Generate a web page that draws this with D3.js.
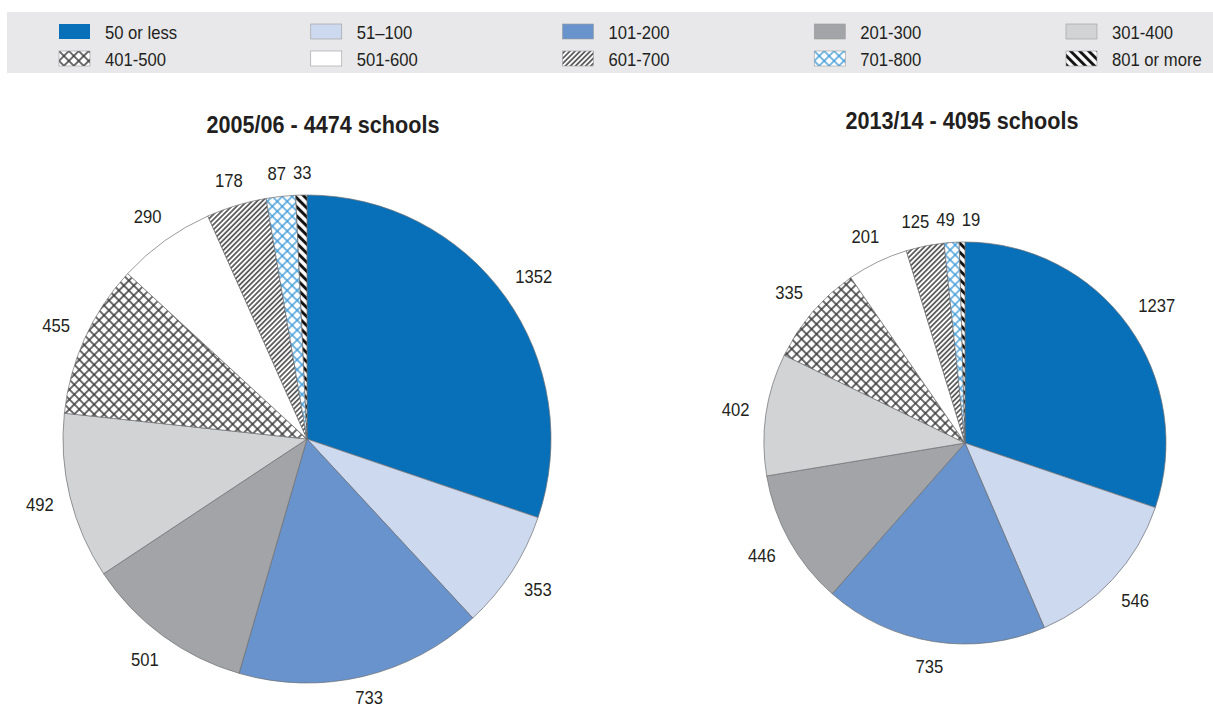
<!DOCTYPE html>
<html>
<head>
<meta charset="utf-8">
<script src="https://cdn.jsdelivr.net/npm/d3@7/dist/d3.min.js"></script>
<style>
  html, body { margin: 0; padding: 0; background: #ffffff; }
  svg { display: block; }
  text { font-family: "Liberation Sans", Arial, Helvetica, sans-serif; fill: #231f20; }
</style>
</head>
<body>
<svg id="chart" width="1213" height="709"></svg>
<script>
// School size bands (number of pupils)
const bands = ["50 or less", "51–100", "101-200", "201-300", "301-400",
               "401-500", "501-600", "601-700", "701-800", "801 or more"];

// Number of schools in each size band
const schools2005 = [1352, 353, 733, 501, 492, 455, 290, 178, 87, 33];
const schools2013 = [1237, 546, 735, 446, 402, 335, 201, 125, 49, 19];

const titles = ["2005/06 - 4474 schools", "2013/14 - 4095 schools"];

// Fill for each band: solid colours or hatch patterns defined below
const bandFills = ["#0870b8", "#cdd9ef", "#6893cc", "#a2a4a7", "#d2d3d5",
                   "url(#crossDark)", "#ffffff", "url(#diagFine)", "url(#crossBlue)", "url(#diagBold)"];

const W = 1213, H = 709;
const svg = d3.select("#chart");
const defs = svg.append("defs");
const SX = 0.9; // condensed text

function condensed(sel, x, y) {
  return sel.attr("transform", `translate(${x},${y}) scale(${SX},1)`);
}

// ---- hatch patterns ----
function crossPattern(id, color, size, sw) {
  const p = defs.append("pattern").attr("id", id)
    .attr("patternUnits", "userSpaceOnUse")
    .attr("width", size).attr("height", size)
    .attr("patternTransform", "rotate(45)");
  p.append("rect").attr("width", size).attr("height", size).attr("fill", "#ffffff");
  [[0, 0, size, 0], [0, 0, 0, size], [0, size, size, size], [size, 0, size, size]].forEach(l => {
    p.append("line").attr("x1", l[0]).attr("y1", l[1]).attr("x2", l[2]).attr("y2", l[3])
      .attr("stroke", color).attr("stroke-width", sw);
  });
}
function stripePattern(id, color, size, sw, angle) {
  const p = defs.append("pattern").attr("id", id)
    .attr("patternUnits", "userSpaceOnUse")
    .attr("width", size).attr("height", size)
    .attr("patternTransform", `rotate(${angle})`);
  p.append("rect").attr("width", size).attr("height", size).attr("fill", "#ffffff");
  p.append("line").attr("x1", size / 2).attr("y1", 0).attr("x2", size / 2).attr("y2", size)
    .attr("stroke", color).attr("stroke-width", sw);
}
crossPattern("crossDark", "#3a3a3c", 7, 1.5);
crossPattern("crossBlue", "#3e9ad8", 7, 1.4);
stripePattern("diagFine", "#4a4a4c", 3.6, 1.6, 45);
stripePattern("diagBold", "#111111", 6.4, 3.0, -45);

// ---- legend ----
const legend = svg.append("g");
legend.append("rect").attr("x", 7).attr("y", 12).attr("width", W - 7).attr("height", 61)
  .attr("fill", "#e8e8ea");
const colX = d3.scalePoint().domain(d3.range(5)).range([59, 1066]);
const rowY = d3.scalePoint().domain([0, 1]).range([24, 51]);
const items = legend.selectAll("g.item").data(bands).join("g").attr("class", "item")
  .attr("transform", (d, i) => `translate(${colX(i % 5)},${rowY(Math.floor(i / 5))})`);
items.append("rect").attr("width", 31).attr("height", 15)
  .attr("fill", (d, i) => bandFills[i])
  .attr("stroke", (d, i) => i === 0 ? "none" : "#9a9a9c").attr("stroke-width", 0.6);
items.append("text").attr("font-size", 18.5)
  .each(function () { condensed(d3.select(this), 46, 15); })
  .text(d => d);

// ---- pies ----
const pies = [
  { values: schools2005, title: titles[0], cx: 307, cy: 439, r: 244, tx: 323, ty: 133 },
  { values: schools2013, title: titles[1], cx: 965, cy: 443, r: 201, tx: 962, ty: 129 }
];

const pie = d3.pie().sort(null).value(d => d.value);
const labelSize = 18.5;
const capH = 0.716 * labelSize;

pies.forEach(p => {
  const g = svg.append("g").attr("transform", `translate(${p.cx},${p.cy})`);
  const arc = d3.arc().innerRadius(0).outerRadius(p.r);
  const data = pie(p.values.map((v, i) => ({ value: v, band: i })));

  g.selectAll("path").data(data).join("path")
    .attr("d", arc)
    .attr("fill", d => bandFills[d.data.band])
    .attr("stroke", "#6d6e71")
    .attr("stroke-width", 0.7);

  // value labels outside the rim
  const labels = g.selectAll("text.val").data(data).join("text").attr("class", "val")
    .attr("font-size", labelSize)
    .attr("text-anchor", "middle")
    .text(d => d.data.value);

  const boxes = [];
  labels.each(function (d) {
    const w = this.getComputedTextLength() * SX;
    const a = (d.startAngle + d.endAngle) / 2;
    const sx = Math.sin(a), sy = -Math.cos(a);
    const support = Math.abs(sx) * (w / 2) + Math.abs(sy) * (capH / 2);
    const dist = p.r + 16 + support;
    boxes.push({ node: this, x: sx * dist, y: sy * dist, w });
  });

  // push apart neighbouring labels that would overlap
  for (let iter = 0; iter < 20; iter++) {
    for (let i = 0; i < boxes.length; i++) {
      for (let j = i + 1; j < boxes.length; j++) {
        const a = boxes[i], b = boxes[j];
        if (Math.abs(a.y - b.y) > capH + 2) continue;
        const need = (a.w + b.w) / 2 + 7;
        const gap = Math.abs(a.x - b.x);
        if (gap < need) {
          const shift = (need - gap) / 2;
          if (a.x <= b.x) { a.x -= shift; b.x += shift; } else { a.x += shift; b.x -= shift; }
        }
      }
    }
  }
  // keep labels inside the drawing area
  const maxBaseline = H - 5 - p.cy;
  boxes.forEach(b => condensed(d3.select(b.node), b.x, Math.min(b.y + capH / 2, maxBaseline)));

  svg.append("text")
    .attr("font-size", 24).attr("font-weight", "bold").attr("text-anchor", "middle")
    .each(function () { condensed(d3.select(this), p.tx, p.ty); })
    .text(p.title);
});
</script>
</body>
</html>
